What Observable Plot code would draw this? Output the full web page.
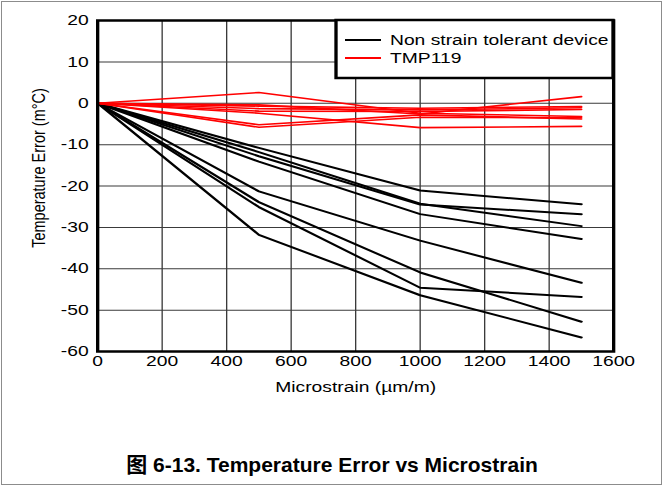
<!DOCTYPE html>
<html><head><meta charset="utf-8">
<script src="https://cdn.jsdelivr.net/npm/d3@7"></script>
<script src="https://cdn.jsdelivr.net/npm/@observablehq/plot@0.6"></script>
<style>
body{margin:0;background:#fff;}
#wrap{position:relative;width:664px;height:487px;overflow:hidden;}
#border{position:absolute;left:1px;top:1px;width:659px;height:482px;border:1px solid #8c8c8c;}
#chart{position:absolute;left:0;top:0;}
#caption{position:absolute;left:0;width:664px;top:448px;line-height:25px;text-align:center;font:bold 21px "Liberation Sans",Arial,"Noto Sans CJK SC",sans-serif;color:#000;}
</style></head><body>
<div id="wrap"><div id="border"></div><div id="chart"></div><div id="caption">图 6-13. Temperature Error vs Microstrain</div></div>
<script>
// ---- data ----
const strain = [0, 500, 1000, 1500];
const nonTolerant = [
  [0, -10.8, -21.1, -24.4],
  [0, -11.8, -24.3, -29.7],
  [0, -12.8, -24.5, -26.8],
  [0, -14.1, -26.8, -32.8],
  [0, -21.3, -33.2, -43.4],
  [0, -23.9, -40.9, -52.8],
  [0, -25.1, -44.6, -46.8],
  [0, -31.8, -46.4, -56.6]
];
const tmp119 = [
  [0, 2.6, -2.4, -3.2],
  [0, -0.4, -2.6, 1.6],
  [0, -0.7, -1.2, -0.8],
  [0, -1.3, -1.6, -1.1],
  [0, -1.9, -2.0, -1.5],
  [0, -2.4, -5.9, -5.6],
  [0, -5.2, -2.8, -3.8],
  [0, -5.8, -3.4, -3.5]
];
const xTicks = [0, 200, 400, 600, 800, 1000, 1200, 1400, 1600];
const yTicks = [20, 10, 0, -10, -20, -30, -40, -50, -60];
const seriesNames = ["Non strain tolerant device", "TMP119"];
const seriesColors = ["#000000", "#ff0000"];
const xLabel = "Microstrain (µm/m)";
const yLabel = "Temperature Error (m°C)";

// ---- build tables ----
const toRows = (sets, name) => sets.flatMap((vals, i) =>
  vals.map((v, j) => ({id: name + i, strain: strain[j], err: v})));
const blackRows = toRows(nonTolerant, "n");
const redRows = toRows(tmp119, "t");

const SX = 1.33;            // horizontal stretch of the original picture
const W = 664 / SX, H = 400;
const FONT = "'Liberation Sans', Arial, Helvetica, sans-serif";

const chart = Plot.plot({
  width: W, height: H,
  marginLeft: 97 / SX, marginRight: W - 613 / SX, marginTop: 20, marginBottom: H - 351,
  style: {fontFamily: FONT, fontSize: "14.5px", color: "#000", background: "transparent", overflow: "visible"},
  x: {domain: [0, 1600], ticks: xTicks, tickSize: 0, tickPadding: 4, tickFormat: d => String(d), label: null},
  y: {domain: [-60, 20], ticks: yTicks, tickSize: 0, tickPadding: 9 / SX, tickFormat: d => String(d), label: null},
  marks: [
    Plot.ruleX(xTicks.slice(1, -1), {stroke: "#3a3a3a", strokeWidth: 1}),
    Plot.ruleY(yTicks.slice(1, -1), {stroke: "#3a3a3a", strokeWidth: 1}),
    Plot.line(blackRows, {x: "strain", y: "err", z: "id", stroke: seriesColors[0], strokeWidth: 2}),
    Plot.line(redRows, {x: "strain", y: "err", z: "id", stroke: seriesColors[1], strokeWidth: 1.6}),
    Plot.frame({stroke: "#000", strokeWidth: 2.5}),
    Plot.text([xLabel], {text: d => d, frameAnchor: "bottom", textAnchor: "middle", lineAnchor: "middle", dy: 36, fontSize: 14.5}),
    Plot.text([yLabel], {text: d => d, frameAnchor: "left", textAnchor: "middle", lineAnchor: "middle", dx: (38.5 - 97) / SX, dy: -18, rotate: -90, fontSize: 14.5})
  ]
});

// ---- legend (top-right, inside the frame) ----
const svg = d3.select(chart);
const lg = svg.append("g").attr("font-family", FONT).attr("font-size", 14.5).attr("text-anchor", "start");
lg.append("rect")
  .attr("x", 336 / SX).attr("y", 20)
  .attr("width", (613 - 336) / SX).attr("height", 58)
  .attr("fill", "#fff").attr("stroke", "#000").attr("stroke-width", 2.5);
seriesNames.forEach((name, i) => {
  const y = 40 + i * 18;
  lg.append("line").attr("x1", 345 / SX).attr("x2", 381 / SX).attr("y1", y).attr("y2", y)
    .attr("stroke", seriesColors[i]).attr("stroke-width", 2);
  lg.append("text").attr("x", 390 / SX).attr("y", y).attr("dy", "0.35em")
    .attr("text-anchor", "start").attr("fill", "#000").text(name);
});

// stretch horizontally like the reference picture
chart.setAttribute("preserveAspectRatio", "none");
chart.setAttribute("width", 664);
chart.style.width = "664px";
chart.style.height = H + "px";
chart.style.maxWidth = "none";
document.getElementById("chart").appendChild(chart);
</script>
</body></html>
